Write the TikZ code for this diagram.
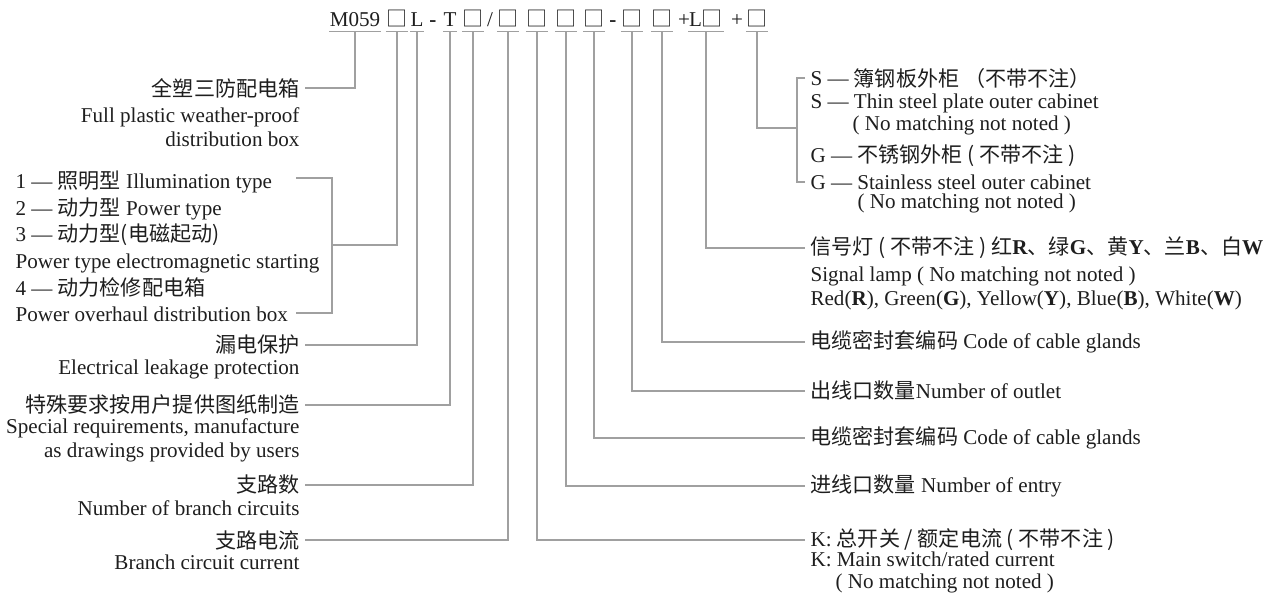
\documentclass[tikz,border=0pt]{standalone}
\usepackage{fontspec}
\setmainfont{Liberation Serif}
\newfontfamily\cjk{Noto Sans CJK SC}
\definecolor{ink}{HTML}{1E1E1E}
\definecolor{wirec}{HTML}{A0A0A0}

\begin{document}
\begin{tikzpicture}[line width=0.6pt,font=\fontsize{12}{13.5}\selectfont,
  wire/.style={draw=wirec},
  code/.style={anchor=base,inner sep=0pt,text height=0.3cm,text depth=0.08cm,text=ink},
  lbl/.style={inner xsep=0.1cm,inner ysep=0pt,text=ink}]
  \useasboundingbox (0,0) rectangle (25.62,11.90);
  % ===================== CODIGO (arriba) =====================
  \node[code] (c0) at (7.10,11.36){M059};
  \node[code] (c1) at (7.94,11.36){\cjk □};
  \node[code] (c2) at (8.34,11.36){L};
  \node[code] (d1) at (8.66,11.36){\textbf{-}};
  \node[code] (c3) at (9.00,11.36){T};
  \node[code] (c4) at (9.46,11.36){\cjk □};
  \node[code] (d2) at (9.80,11.36){/};
  \node[code] (c5) at (10.16,11.36){\cjk □};
  \node[code] (c6) at (10.74,11.36){\cjk □};
  \node[code] (c7) at (11.32,11.36){\cjk □};
  \node[code] (c8) at (11.88,11.36){\cjk □};
  \node[code] (d3) at (12.26,11.36){\textbf{-}};
  \node[code] (c9) at (12.64,11.36){\cjk □};
  \node[code] (c10) at (13.24,11.36){\cjk □};
  \node[code] (d4) at (13.68,11.36){+};
  \node[code] (c11) at (14.12,11.36){L{\cjk □}};
  \node[code] (d5) at (14.74,11.36){+};
  \node[code] (c12) at (15.14,11.36){\cjk □};
  % subrayados
  \draw[wire] (c0.south west)--(c0.south east); \draw[wire] (c1.south west)--(c1.south east);
  \draw[wire] (c2.south west)--(c2.south east); \draw[wire] (c3.south west)--(c3.south east);
  \draw[wire] (c4.south west)--(c4.south east); \draw[wire] (c5.south west)--(c5.south east);
  \draw[wire] (c6.south west)--(c6.south east); \draw[wire] (c7.south west)--(c7.south east);
  \draw[wire] (c8.south west)--(c8.south east); \draw[wire] (c9.south west)--(c9.south east);
  \draw[wire] (c10.south west)--(c10.south east); \draw[wire] (c11.south west)--(c11.south east);
  \draw[wire] (c12.south west)--(c12.south east);
  % ===================== ETIQUETAS (izquierda) =====================
  \node[lbl,anchor=east] (l0) at (6.10,10.14){\cjk 全塑三防配电箱};
  \node[lbl,anchor=east,align=right] (l0e) at (6.10,9.36){Full plastic weather-proof\\distribution box};
  \node[lbl,anchor=west,align=left,font=\fontsize{12}{15.2}\selectfont] (tp) at (0.20,6.97){1 — {\cjk 照明型} Illumination type\\2 — {\cjk 动力型} Power type\\3 — {\cjk 动力型(电磁起动)}\\Power type electromagnetic starting\\4 — {\cjk 动力检修配电箱}\\Power overhaul distribution box};
  \node[lbl,anchor=east] (l2) at (6.10,5.00){\cjk 漏电保护};
  \node[lbl,anchor=east] (l2e) at (6.10,4.52){Electrical leakage protection};
  \node[lbl,anchor=east] (l3) at (6.10,3.80){\cjk 特殊要求按用户提供图纸制造};
  \node[lbl,anchor=east,align=right] (l3e) at (6.10,3.10){Special requirements, manufacture\\as drawings provided by users};
  \node[lbl,anchor=east] (l4) at (6.10,2.20){\cjk 支路数};
  \node[lbl,anchor=east] (l4e) at (6.10,1.74){Number of branch circuits};
  \node[lbl,anchor=east] (l5) at (6.10,1.10){\cjk 支路电流};
  \node[lbl,anchor=east] (l5e) at (6.10,0.66){Branch circuit current};
  % ===================== ETIQUETAS (derecha) =====================
  \node[lbl,anchor=west] (s1) at (16.10,10.34){S — {\cjk 簿钢板外柜 （不带不注）}};
  \node[lbl,anchor=west] (s2) at (16.10,9.84){S — Thin steel plate outer cabinet};
  \node[lbl,anchor=west] (s3) at (16.94,9.40){( No matching not noted )};
  \node[lbl,anchor=west] (g1) at (16.10,8.78){G — {\cjk 不锈钢外柜 ( 不带不注 )}};
  \node[lbl,anchor=west] (g2) at (16.10,8.26){G — Stainless steel outer cabinet};
  \node[lbl,anchor=west] (g3) at (17.04,7.84){( No matching not noted )};
  \node[lbl,anchor=west] (r11) at (16.10,6.94){{\cjk 信号灯 ( 不带不注 ) 红}\textbf{R}{\cjk 、绿}\textbf{G}{\cjk 、黄}\textbf{Y}{\cjk 、兰}\textbf{B}{\cjk 、白}\textbf{W}};
  \node[lbl,anchor=west,align=left] (r11e) at (16.10,6.13){Signal lamp ( No matching not noted )\\Red(\textbf{R}), Green(\textbf{G}), Yellow(\textbf{Y}), Blue(\textbf{B}), White(\textbf{W})};
  \node[lbl,anchor=west] (r10) at (16.10,5.06){{\cjk 电缆密封套编码} Code of cable glands};
  \node[lbl,anchor=west] (r9) at (16.10,4.08){{\cjk 出线口数量}Number of outlet};
  \node[lbl,anchor=west] (r8) at (16.10,3.14){{\cjk 电缆密封套编码} Code of cable glands};
  \node[lbl,anchor=west] (r7) at (16.10,2.18){{\cjk 进线口数量} Number of entry};
  \node[lbl,anchor=west] (r6) at (16.10,1.10){K: {\cjk 总开关 / 额定电流 ( 不带不注 )}};
  \node[lbl,anchor=west,align=left,font=\fontsize{12}{12.5}\selectfont] (r6e) at (16.10,0.45){K: Main switch/rated current\\\hspace*{0.5cm}( No matching not noted )};
  % ---------- lineas izquierda ----------
  \draw[wire] (c0.south) |- (l0.east);
  \coordinate (b1) at (6.64,7.00); \coordinate (t1) at (5.92,8.34); \coordinate (t4) at (5.92,5.64);
  \draw[wire] (c1.south) |- (b1);
  \draw[wire] (t1) -| (b1); \draw[wire] (t4) -| (b1);
  \draw[wire] (c2.south) |- (l2.east);
  \draw[wire] (c3.south) |- (l3.east);
  \draw[wire] (c4.south) |- (l4.east);
  \draw[wire] (c5.south) |- (l5.east);
  % ---------- lineas derecha ----------
  \draw[wire] (c6.south) |- (r6.west);
  \draw[wire] (c7.south) |- (r7.west);
  \draw[wire] (c8.south) |- (r8.west);
  \draw[wire] (c9.south) |- (r9.west);
  \draw[wire] (c10.south) |- (r10.west);
  \draw[wire] (c11.south) |- (r11.west);
  \coordinate (b2) at (15.94,9.34);
  \draw[wire] (c12.south) |- (b2);
  \draw[wire] (s1.west) -| (b2); \draw[wire] (g2.west) -| (b2);
\end{tikzpicture}
\end{document}
